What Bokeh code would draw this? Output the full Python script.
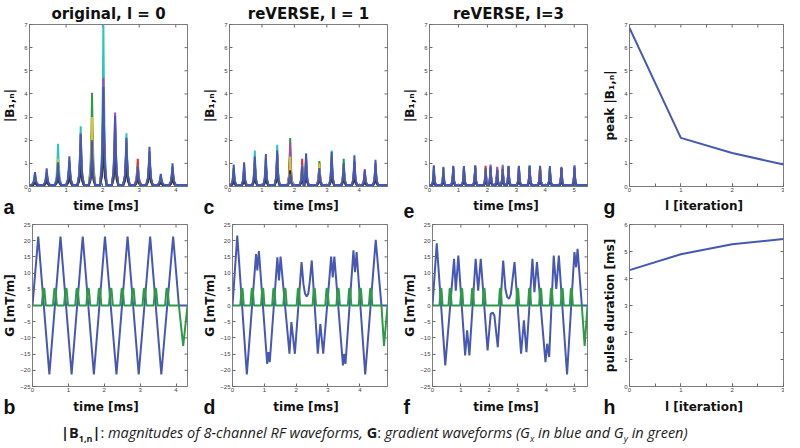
import math
from bokeh.plotting import figure
from bokeh.layouts import column, row
from bokeh.models import SingleIntervalTicker, Range1d, Div
from bokeh.core.properties import value
from bokeh.embed import file_html
from bokeh.resources import INLINE

# ------------------------------------------------------------------ data
TITLES = ["original, l = 0", "reVERSE, l = 1", "reVERSE, l=3"]
TOP_LETTERS = ["a", "c", "e", "g"]
BOT_LETTERS = ["b", "d", "f", "h"]
TIME_LABEL = "time [ms]"
ITER_LABEL = "l [iteration]"
T_END = [4.32, 4.87, 5.46]          # time-axis extent of each column [ms]

B1_LABEL = "|B\u2081,\u2099|"
CH_COLORS = ["#4658B4", "#2E9A48", "#E0322C", "#2BC4C4",
             "#A94AAE", "#D9C42A", "#333333", "#4658B4"]

# panel a : original pulse, RF peak times [ms] and |B1,n| peak of each channel
RF_A_T = [0.15, 0.47, 0.78, 1.09, 1.40, 1.71, 2.02, 2.34, 2.65, 2.96, 3.28, 3.59, 3.91]
RF_A_CH1 = [0.50, 0.60, 0.90, 1.10, 1.90, 1.80, 3.80, 2.70, 1.80, 0.80, 1.50, 0.45, 0.85]
RF_A_CH2 = [0.40, 0.50, 0.80, 0.90, 1.60, 4.05, 3.50, 2.40, 1.50, 0.60, 1.20, 0.40, 0.60]
RF_A_CH3 = [0.30, 0.45, 0.70, 0.70, 1.40, 2.60, 3.00, 2.00, 2.00, 1.20, 1.00, 0.30, 0.50]
RF_A_CH4 = [0.55, 0.60, 1.85, 1.00, 2.60, 2.30, 7.00, 2.50, 2.30, 0.70, 1.40, 0.50, 0.80]
RF_A_CH5 = [0.35, 0.50, 0.70, 0.80, 2.30, 1.50, 4.70, 3.20, 1.60, 0.60, 1.30, 0.35, 0.70]
RF_A_CH6 = [0.30, 0.40, 1.20, 0.80, 1.50, 3.00, 2.80, 1.80, 1.20, 0.90, 1.00, 0.30, 0.60]
RF_A_CH7 = [0.20, 0.30, 0.50, 0.50, 1.00, 1.20, 2.00, 1.40, 1.00, 0.40, 0.80, 0.20, 0.40]
RF_A_CH8 = [0.62, 0.78, 1.05, 1.30, 2.25, 2.00, 4.30, 3.05, 2.10, 0.90, 1.72, 0.55, 1.00]

# panel c : reVERSE l = 1
RF_C_T = [0.13, 0.45, 0.78, 1.12, 1.47, 1.87, 2.24, 2.36, 2.77, 3.15, 3.52, 3.85, 4.17, 4.50]
RF_C_CH1 = [0.80, 0.90, 1.10, 1.20, 1.40, 0.50, 0.80, 1.20, 0.70, 1.30, 0.90, 1.10, 0.60, 1.00]
RF_C_CH2 = [0.60, 0.70, 0.90, 0.80, 1.20, 2.10, 0.80, 1.00, 1.10, 1.00, 1.20, 0.90, 0.50, 0.70]
RF_C_CH3 = [0.50, 0.60, 1.00, 0.90, 1.30, 1.60, 1.20, 0.90, 1.00, 0.90, 0.80, 0.80, 0.50, 0.60]
RF_C_CH4 = [0.70, 0.80, 1.55, 1.00, 1.80, 1.40, 0.90, 1.45, 0.90, 1.55, 0.90, 1.00, 0.60, 0.80]
RF_C_CH5 = [0.60, 0.70, 1.00, 0.90, 1.40, 1.90, 0.70, 1.10, 0.80, 1.10, 0.80, 1.00, 0.75, 0.80]
RF_C_CH6 = [0.50, 0.60, 1.00, 0.80, 1.20, 1.30, 0.90, 1.00, 1.00, 0.90, 0.90, 0.80, 0.40, 0.60]
RF_C_CH7 = [0.30, 0.40, 0.60, 0.50, 0.80, 0.70, 0.50, 0.70, 0.50, 0.70, 0.50, 0.60, 0.30, 0.50]
RF_C_CH8 = [0.95, 1.05, 1.30, 1.40, 1.55, 0.55, 0.90, 1.40, 0.80, 1.50, 1.00, 1.35, 0.70, 1.15]

# panel e : reVERSE l = 3
RF_E_T = [0.15, 0.48, 0.82, 1.19, 1.58, 1.94, 2.11, 2.34, 2.53, 2.73, 3.09, 3.46, 3.82, 4.16, 4.56, 5.01]
RF_E_CH1 = [0.85, 0.80, 0.85, 0.80, 0.80, 0.70, 0.80, 0.75, 0.70, 0.85, 0.85, 0.85, 0.85, 0.80, 0.80, 0.85]
RF_E_CH2 = [0.70, 0.60, 0.70, 0.85, 0.80, 0.50, 0.80, 0.70, 0.70, 0.90, 0.80, 0.92, 0.85, 0.70, 0.80, 0.70]
RF_E_CH3 = [0.50, 0.60, 0.70, 0.80, 0.92, 0.90, 0.70, 0.60, 0.80, 0.70, 0.85, 0.70, 0.80, 0.70, 0.80, 0.60]
RF_E_CH4 = [0.60, 0.70, 0.85, 0.70, 0.80, 0.60, 0.90, 0.80, 0.95, 0.70, 0.80, 0.85, 0.70, 0.80, 0.60, 0.70]
RF_E_CH5 = [0.60, 0.50, 0.80, 0.70, 0.85, 0.70, 0.95, 0.85, 0.90, 0.80, 0.70, 0.80, 0.75, 0.70, 0.70, 0.80]
RF_E_CH6 = [0.50, 0.80, 0.60, 0.70, 0.60, 0.70, 0.60, 0.60, 0.70, 0.60, 0.70, 0.60, 0.70, 0.60, 0.50, 0.60]
RF_E_CH7 = [0.40, 0.40, 0.50, 0.50, 0.50, 0.40, 0.50, 0.40, 0.50, 0.50, 0.50, 0.50, 0.50, 0.50, 0.40, 0.50]
RF_E_CH8 = [0.92, 0.85, 0.90, 0.88, 0.90, 0.80, 0.85, 0.70, 0.75, 0.88, 0.90, 0.90, 0.90, 0.88, 0.85, 0.92]

# gradient waveforms: Gx vertices (t [ms], G [mT/m])
GX_B_T = [0, 0.16, 0.47, 0.78, 1.09, 1.40, 1.71, 2.02, 2.34, 2.65, 2.96, 3.28, 3.59, 3.92, 4.08, 4.32]
GX_B_G = [0, 21.3, -21.3, 21.3, -21.3, 21.3, -21.3, 21.3, -21.3, 21.3, -21.3, 21.3, -21.3, 21.3, 0, 0]

GX_D_T = [0, 0.15, 0.45, 0.74, 0.78, 0.83, 1.09, 1.13, 1.17, 1.41, 1.46, 1.51, 1.79, 1.85,
          1.96, 2.17, 2.23, 2.28, 2.33, 2.38, 2.43, 2.49, 2.68, 2.76, 2.85, 3.10, 3.15, 3.20,
          3.47, 3.51, 3.55, 3.80, 3.85, 3.90, 4.17, 4.50, 4.68, 4.87]
GX_D_G = [0, 21.6, -21.3, 15.9, 10.8, 16.8, -18.0, -14.4, -17.5, 14.9, 7.7, 15.1, -14.9, -5.1,
          -14.9, 13.4, 6.5, 3.6, 2.8, 3.6, 7.5, 13.9, -14.9, -5.7, -14.9, 15.1, 8.7, 15.1,
          -18.5, -14.9, -18.0, 17.0, 10.3, 16.5, -21.3, 20.3, 0, 0]

GX_F_T = [0, 0.15, 0.45, 0.76, 0.82, 0.91, 1.15, 1.22, 1.30, 1.52, 1.61, 1.70, 1.94, 2.05,
          2.12, 2.18, 2.30, 2.49, 2.57, 2.63, 2.70, 2.76, 2.89, 3.12, 3.22, 3.31, 3.52, 3.59,
          3.68, 3.98, 4.04, 4.11, 4.27, 4.36, 4.45, 4.74, 5.00, 5.06, 5.11, 5.26, 5.46]
GX_F_G = [0, 19.2, -18.5, 14.4, 4.6, 15.4, -15.4, -7.7, -15.4, 14.4, 4.6, 14.4, -13.9, -2.6,
          -2.2, -3.1, -12.9, 13.9, 5.0, 2.6, 2.1, 3.5, 13.4, -14.9, -4.6, -14.4, 14.4, 4.1,
          13.4, -17.5, -11.8, -15.9, 15.4, 5.1, 15.4, -21.3, 16.5, 11.8, 17.5, 0, 0]

# Gy blips (centre times) and rewinder vertices
GY_AMP = 5.2
GY_B_BLIPS = [0.315, 0.625, 0.935, 1.245, 1.555, 1.865, 2.185, 2.50, 2.805, 3.12, 3.43, 3.75]
GY_D_BLIPS = [0.30, 0.62, 0.95, 1.30, 1.65, 2.07, 2.57, 2.97, 3.32, 3.68, 4.02, 4.34]
GY_F_BLIPS = [0.30, 0.62, 1.03, 1.41, 1.82, 2.39, 3.00, 3.42, 3.81, 4.19, 4.57, 4.89]
GY_B_REW_T = [4.08, 4.20, 4.32]
GY_D_REW_T = [4.68, 4.76, 4.87]
GY_F_REW_T = [5.26, 5.36, 5.46]
GY_REW_G = [0, -12.5, 0]

# summary panels
ITER = [0, 1, 2, 3]
PEAK_B1 = [6.85, 2.10, 1.45, 0.95]
PULSE_DUR = [4.31, 4.90, 5.27, 5.46]

# ------------------------------------------------------------------ style / layout
LABEL_FONT = "DejaVu Sans"
LETTER_FONT = "Liberation Sans"
FRAME = "#7d7d7d"
TICKC = "#6a6a6a"
TLAB = "#404040"
GX_COLOR = "#4658B4"
GY_COLOR = "#2E9A48"

COL_W = [200, 200, 200, 184]
FRAME_W = [163, 163, 163, 159]
ML = 24
FH = 162
TOP_H, TOP_MT = 194, 24
BOT_H, BOT_MT = 176, 6
STRIP_H = 24


def panel(i, height, mt, xend, y0, y1, xint, yint, xminor, ylabel, ylab_standoff):
    width, fw = COL_W[i], FRAME_W[i]
    p = figure(width=width, height=height, x_range=Range1d(0, xend), y_range=Range1d(y0, y1),
               output_backend="svg", toolbar_location=None, tools="",
               min_border_left=ML, min_border_right=width - ML - fw, min_border_top=mt,
               min_border_bottom=height - mt - FH)
    p.grid.visible = False
    p.outline_line_color = FRAME
    p.outline_line_width = 1
    p.xaxis.ticker = SingleIntervalTicker(interval=xint, num_minor_ticks=xminor)
    p.yaxis.ticker = SingleIntervalTicker(interval=yint, num_minor_ticks=0)
    for ax in (p.xaxis[0], p.yaxis[0]):
        ax.axis_line_color = None
        ax.major_tick_in = 3
        ax.major_tick_out = 0
        ax.minor_tick_in = 3
        ax.minor_tick_out = 0
        ax.major_tick_line_color = TICKC
        ax.minor_tick_line_color = TICKC
        ax.major_label_text_font_size = "6px"
        ax.major_label_text_color = TLAB
        ax.axis_label_text_font = LABEL_FONT
        ax.axis_label_text_font_style = "bold"
        ax.axis_label_text_font_size = "12px"
        ax.axis_label_text_color = "#111111"
    p.xaxis.major_label_standoff = 1
    p.yaxis.major_label_standoff = 2
    p.yaxis.axis_label = ylabel
    p.yaxis.axis_label_standoff = ylab_standoff
    # inward ticks on the top and right edges of the box (clipped dash markers)
    div = xminor if xminor else 1
    step = xint / div
    nx = int(round(xend / step))
    xt = [k * step for k in range(nx + 1) if k * step <= xend + 1e-9]
    ny = int(round((y1 - y0) / yint))
    yt = [y0 + k * yint for k in range(ny + 1)]
    p.scatter(xt, [y1] * len(xt), marker="dash", size=6, angle=math.pi / 2,
              line_color=TICKC, line_width=1)
    p.scatter([xend] * len(yt), yt, marker="dash", size=6, line_color=TICKC, line_width=1)
    return p


def set_title(p, text):
    p.title.text = text
    p.title.align = "center"
    p.title.text_font = LABEL_FONT
    p.title.text_font_style = "bold"
    p.title.text_font_size = "15px"
    p.title.text_color = "#111111"
    p.title.standoff = 4


def strip(letters, labels, label_y):
    s = figure(width=sum(COL_W), height=STRIP_H, x_range=Range1d(0, sum(COL_W)),
               y_range=Range1d(0, STRIP_H), output_backend="svg", toolbar_location=None,
               tools="", min_border=0, x_axis_type=None, y_axis_type=None)
    s.grid.visible = False
    s.outline_line_color = None
    lefts = [sum(COL_W[:k]) for k in range(4)]
    s.text(x=[l + 3 for l in lefts], y=[1.0] * 4, text=letters,
           text_font=value(LETTER_FONT), text_font_style="bold", text_font_size=value("19.5px"),
           text_baseline="bottom", text_align="left", text_color="#111111")
    centers = [lefts[k] + ML + FRAME_W[k] / 2 for k in range(4)]
    s.text(x=centers, y=[label_y] * 4, text=labels,
           text_font=value(LABEL_FONT), text_font_style="bold", text_font_size=value("12px"),
           text_baseline="middle", text_align="center", text_color="#111111")
    return s


def spike_path(times, heights, xend, base, w):
    xs, ys = [0.0], [base]
    for t, h in zip(times, heights):
        xs += [t - w, t - 0.45 * w, t - 0.15 * w, t, t + 0.15 * w, t + 0.45 * w, t + w]
        ys += [base, base + 0.2 * (h - base), base + 0.62 * (h - base), h,
               base + 0.62 * (h - base), base + 0.2 * (h - base), base]
    xs.append(xend)
    ys.append(base)
    return xs, ys


def gy_path(blips, rew_t, rew_g):
    xs, ys = [0.0], [0.0]
    for c in blips:
        xs += [c - 0.055, c - 0.015, c + 0.015, c + 0.055]
        ys += [0, GY_AMP, GY_AMP, 0]
    xs += rew_t
    ys += rew_g
    return xs, ys


RF_SETS = [
    (RF_A_T, [RF_A_CH1, RF_A_CH2, RF_A_CH3, RF_A_CH4, RF_A_CH5, RF_A_CH6, RF_A_CH7, RF_A_CH8], 0.09),
    (RF_C_T, [RF_C_CH1, RF_C_CH2, RF_C_CH3, RF_C_CH4, RF_C_CH5, RF_C_CH6, RF_C_CH7, RF_C_CH8], 0.08),
    (RF_E_T, [RF_E_CH1, RF_E_CH2, RF_E_CH3, RF_E_CH4, RF_E_CH5, RF_E_CH6, RF_E_CH7, RF_E_CH8], 0.07),
]
GX_SETS = [(GX_B_T, GX_B_G), (GX_D_T, GX_D_G), (GX_F_T, GX_F_G)]
GY_SETS = [(GY_B_BLIPS, GY_B_REW_T), (GY_D_BLIPS, GY_D_REW_T), (GY_F_BLIPS, GY_F_REW_T)]
BASES = [0.06, 0.05, 0.07, 0.04, 0.06, 0.05, 0.04, 0.06]

top, bot = [], []
for i in range(3):
    p = panel(i, TOP_H, TOP_MT, T_END[i], 0, 7, 1, 1, 0, B1_LABEL, 4)
    times, chans, w = RF_SETS[i]
    for k, (hs, col) in enumerate(zip(chans, CH_COLORS)):
        xs, ys = spike_path(times, hs, T_END[i], BASES[k], w)
        p.line(xs, ys, line_color=col, line_width=2)
    set_title(p, TITLES[i])
    top.append(p)

    q = panel(i, BOT_H, BOT_MT, T_END[i], -25, 25, 1, 5, 0, "G [mT/m]", 0)
    gt, gg = GX_SETS[i]
    q.line(gt, gg, line_color=GX_COLOR, line_width=2)
    bl, rt = GY_SETS[i]
    xs, ys = gy_path(bl, rt, GY_REW_G)
    q.line(xs, ys, line_color=GY_COLOR, line_width=2)
    bot.append(q)

pg = panel(3, TOP_H, TOP_MT, 3, 0, 7, 1, 1, 2, "peak " + B1_LABEL, 4)
pg.line(ITER, PEAK_B1, line_color=GX_COLOR, line_width=2)
top.append(pg)

ph = panel(3, BOT_H, BOT_MT, 3, 0, 6, 1, 1, 2, "pulse duration [ms]", 4)
ph.line(ITER, PULSE_DUR, line_color=GX_COLOR, line_width=2)
bot.append(ph)

labels = [TIME_LABEL, TIME_LABEL, TIME_LABEL, ITER_LABEL]
s_top = strip(TOP_LETTERS, labels, 13)
s_bot = strip(BOT_LETTERS, labels, 12)

caption_html = (
    '<div style="margin-left:56px;margin-top:0px;white-space:nowrap;'
    "font-family:'Open Sans',sans-serif;font-size:14.5px;color:#1a1a1a;\">"
    '<b>|B<sub style="font-size:9px">1,n</sub>|</b>: '
    '<i>magnitudes of 8-channel RF waveforms, </i><b>G</b>: '
    '<i>gradient waveforms (G<sub style="font-size:9px">x</sub> in blue and '
    'G<sub style="font-size:9px">y</sub> in green)</i></div>'
)
cap = Div(text=caption_html, width=784, height=28)

layout = column(row(*top), s_top, row(*bot), s_bot, cap)
open("out.html", "w").write(file_html(layout, INLINE))
